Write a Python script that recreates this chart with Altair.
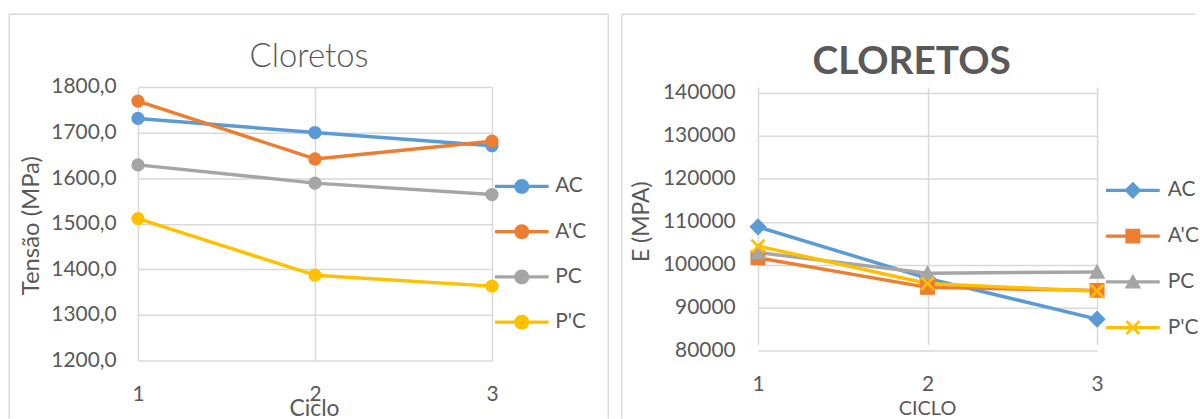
import altair as alt
import pandas as pd

# ---------------- data ----------------
ciclo = [1, 2, 3]
series = ["AC", "A'C", "PC", "P'C"]
palette = ["#5B9BD5", "#ED7D31", "#A5A5A5", "#FFC000"]

tensao_ac = [1731, 1700, 1671]
tensao_apc = [1769, 1642, 1681]
tensao_pc = [1629, 1589, 1564]
tensao_ppc = [1511, 1387, 1363]

e_ac = [108800, 96800, 87300]
e_apc = [101600, 94700, 94000]
e_pc = [102800, 98000, 98300]
e_ppc = [104300, 95600, 93800]

y_ticks_left = [1200, 1300, 1400, 1500, 1600, 1700, 1800]
y_ticks_right = [80000, 90000, 100000, 110000, 120000, 130000, 140000]

title_left = "Cloretos"
title_right = "CLORETOS"
ytitle_left = "Tensão (MPa)"
ytitle_right = "E (MPA)"
xtitle_left = "Ciclo"
xtitle_right = "CICLO"


def long_table(lists):
    rows = []
    for s, vals in zip(series, lists):
        for c, v in zip(ciclo, vals):
            rows.append({"ciclo": c, "serie": s, "valor": v})
    return pd.DataFrame(rows)


df_left = long_table([tensao_ac, tensao_apc, tensao_pc, tensao_ppc])
df_right = long_table([e_ac, e_apc, e_pc, e_ppc])

TEXT = "#595959"
GRID = "#D9D9D9"
FONT = "Lato"

# symbol paths (unit = marker half size)
CIRCLE = "M1,0A1,1 0 1,1 -1,0A1,1 0 1,1 1,0Z"
DIAMOND = "M0,-1.15L1.15,0L0,1.15L-1.15,0Z"
SQUARE = "M-1,-1L1,-1L1,1L-1,1Z"
TRIANGLE = "M0,-1.1L1.1,0.9L-1.1,0.9Z"
XMARK = ("M-1,-0.75L-0.75,-1L0,-0.25L0.75,-1L1,-0.75L0.25,0L1,0.75L0.75,1"
         "L0,0.25L-0.75,1L-1,0.75L-0.25,0Z")
SEG = "M-3.6,-0.23L3.6,-0.23L3.6,0.23L-3.6,0.23Z"

one = pd.DataFrame({"k": [0]})


def frame_rule(x, x2, y, y2):
    return alt.Chart(one).mark_rule(color=GRID, strokeWidth=1.5).encode(
        x=alt.value(x), x2=alt.value(x2), y=alt.value(y), y2=alt.value(y2)
    )


def title_text(txt, x, y, size, weight):
    return alt.Chart(pd.DataFrame({"t": [txt]})).mark_text(
        font=FONT, fontSize=size, fontWeight=weight, color=TEXT,
        align="center", baseline="middle"
    ).encode(x=alt.value(x), y=alt.value(y), text="t:N")


color_scale = alt.Scale(domain=series, range=palette)

# ---------------- left panel ----------------
W1, H1 = 356, 275
x_left = alt.X(
    "ciclo:O",
    scale=alt.Scale(type="point", domain=ciclo, padding=0),
    axis=alt.Axis(labelAngle=0, grid=True, title=xtitle_left,
                  titleX=177, titleY=48, titleBaseline="middle",
                  titleAlign="center", titleFontSize=23,
                  labelPadding=23, labelOverlap=False),
)
y_left = alt.Y(
    "valor:Q",
    scale=alt.Scale(domain=[1200, 1800], nice=False, zero=False),
    axis=alt.Axis(values=y_ticks_left,
                  labelExpr="replace(format(datum.value, '.1f'), '.', ',')",
                  title=ytitle_left, titleX=-107, titleY=139, titleAngle=270,
                  titleBaseline="middle", titleAlign="center",
                  titleFontSize=24, labelPadding=22),
)

leg_left = alt.Legend(
    title=None, orient="none", legendX=375.5, legendY=89.5,
    symbolType=SEG + CIRCLE, symbolSize=225, symbolStrokeWidth=0,
    symbolOpacity=1, labelFont=FONT, labelFontSize=21, labelColor=TEXT,
    labelOffset=23, rowPadding=23.5, padding=0,
)

base_l = alt.Chart(df_left)
lines_l = base_l.mark_line(strokeWidth=3.5, strokeJoin="round", strokeCap="round").encode(
    x=x_left, y=y_left,
    color=alt.Color("serie:N", scale=color_scale, legend=None),
)
points_l = base_l.mark_point(filled=True, size=177, opacity=1, shape="circle").encode(
    x=x_left, y=y_left,
    color=alt.Color("serie:N", scale=color_scale, legend=leg_left),
)

left = alt.layer(
    frame_rule(-129.5, -129.5, -73, 333.5),
    frame_rule(-129.5, 473, -73, -73),
    frame_rule(473, 473, -73, 333.5),
    title_text(title_left, 172, -30, 33, 300),
    lines_l,
    points_l,
).resolve_scale(color="independent").properties(width=W1, height=H1)

# ---------------- right panel ----------------
# view starts 6 px above the 140000 gridline (scale range shifted)
W2, H2 = 341, 265
x_right = alt.X(
    "ciclo:O",
    scale=alt.Scale(type="point", domain=ciclo, padding=0),
    axis=alt.Axis(labelAngle=0, grid=True, title=xtitle_right,
                  titleX=170, titleY=58, titleBaseline="middle",
                  titleAlign="center", titleFontSize=20,
                  labelPadding=23.5, labelOverlap=False),
)
y_right = alt.Y(
    "valor:Q",
    scale=alt.Scale(domain=[80000, 140000], range=[265, 6], nice=False, zero=False),
    axis=alt.Axis(values=y_ticks_right, format="d",
                  title=ytitle_right, titleX=-117, titleY=135, titleAngle=270,
                  titleBaseline="middle", titleAlign="center",
                  titleFontSize=23, labelPadding=23),
)

leg_right = alt.Legend(
    title=None, orient="none", legendX=366.5, legendY=93.5,
    symbolSize=225, symbolStrokeWidth=0, symbolOpacity=1,
    labelFont=FONT, labelFontSize=21, labelColor=TEXT,
    labelOffset=24.5, rowPadding=24, padding=0,
)

base_r = alt.Chart(df_right)
lines_r = base_r.mark_line(strokeWidth=3.5, strokeJoin="round", strokeCap="round").encode(
    x=x_right, y=y_right,
    color=alt.Color("serie:N", scale=color_scale, legend=None),
)
points_r = base_r.mark_point(filled=True, size=225, opacity=1).encode(
    x=x_right, y=y_right,
    color=alt.Color("serie:N", scale=color_scale, legend=None),
    shape=alt.Shape("serie:N", scale=alt.Scale(domain=series,
                    range=[DIAMOND, SQUARE, TRIANGLE, XMARK]), legend=None),
)
legend_r = base_r.mark_point(filled=True, size=225, opacity=0).encode(
    x=x_right, y=y_right,
    color=alt.Color("serie:N", scale=color_scale, legend=leg_right),
    shape=alt.Shape("serie:N", scale=alt.Scale(domain=series,
                    range=[SEG + DIAMOND, SEG + SQUARE, SEG + TRIANGLE, SEG + XMARK]),
                    legend=leg_right),
)

right = alt.layer(
    frame_rule(-137, -137, -73, 333.5),
    frame_rule(-137, 440, -73, -73),
    title_text(title_right, 154.5, -25, 39, "bold"),
    lines_r,
    points_r,
    legend_r,
).resolve_scale(shape="independent", color="independent").properties(width=W2, height=H2)

chart = alt.hconcat(left, right, spacing=9.5).properties(
    padding={"left": 7.75, "top": 11.25, "right": 0, "bottom": 0},
    background="white",
).configure_view(stroke="transparent").configure_axis(
    labelFont=FONT, labelFontSize=21, labelColor=TEXT,
    titleFont=FONT, titleColor=TEXT, titleFontWeight="normal",
    ticks=False, tickSize=0, domain=False,
    grid=True, gridColor=GRID, gridWidth=1.5,
)

chart.save("out.html", embed_options={"renderer": "svg", "actions": False})
